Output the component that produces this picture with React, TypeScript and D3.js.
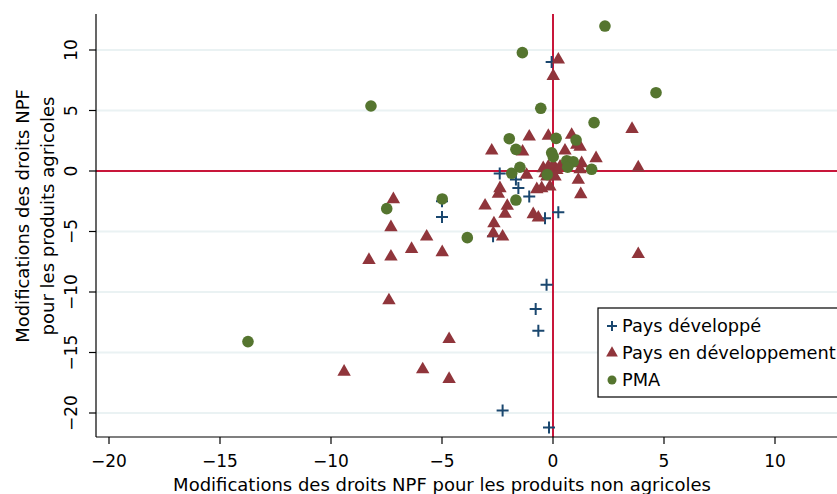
import React from "react";
import * as d3 from "d3";

// [non-agricultural change, agricultural change]
const developed: [number, number][] = [
  [-0.06, 9.0], [-2.4, -0.2], [-1.67, -0.7], [-1.56, -1.4], [-1.07, -2.1],
  [-5.0, -2.5], [-5.0, -3.8], [-0.36, -3.9], [0.24, -3.4], [-2.7, -5.4],
  [-0.29, -9.4], [-0.78, -11.4], [-0.66, -13.2], [-2.27, -19.8], [-0.18, -21.2],
];

const developing: [number, number][] = [
  [0.24, 9.2], [0.01, 7.85], [3.56, 3.47], [-1.07, 2.84], [-0.21, 2.9],
  [0.84, 2.98], [-2.76, 1.68], [-1.37, 1.6], [0.54, 1.68], [1.07, 2.15],
  [1.22, 2.0], [1.94, 1.05], [3.84, 0.28], [-1.19, -0.33], [1.14, -0.74],
  [1.25, -1.93], [-2.39, -1.43], [-2.46, -1.9], [-3.06, -2.87], [-2.06, -2.89],
  [-2.16, -3.55], [-0.73, -1.51], [-0.51, -1.43], [-0.14, -1.3], [-0.89, -3.58],
  [-0.66, -3.86], [-2.66, -4.33], [-2.69, -5.15], [-2.27, -5.43], [-5.69, -5.43],
  [-4.99, -6.72], [3.84, -6.88], [-0.44, 0.22], [-0.21, 0.36], [0.01, 0.5],
  [0.17, 0.08], [-0.06, -0.33], [-0.28, -0.47], [0.09, -0.47], [0.32, 0.36],
  [-0.36, -0.19], [1.29, 0.64], [1.22, 0.14], [-7.19, -2.34], [-7.3, -4.65],
  [-6.37, -6.45], [-8.29, -7.36], [-7.3, -7.08], [-7.39, -10.7], [-9.41, -16.6],
  [-5.87, -16.4], [-4.68, -17.2], [-4.68, -13.9],
];

const pma: [number, number][] = [
  [2.34, 11.98], [-1.38, 9.78], [4.64, 6.47], [-0.55, 5.18], [-8.2, 5.37],
  [1.85, 4.0], [-1.97, 2.67], [-1.67, 1.79], [0.14, 2.7], [1.04, 2.56],
  [-0.06, 1.51], [0.01, 1.18], [0.62, 0.85], [0.91, 0.77], [0.66, 0.31],
  [1.74, 0.14], [-1.49, 0.31], [-1.86, -0.19], [-0.26, -0.3], [-1.67, -2.4],
  [-4.99, -2.31], [-3.86, -5.51], [-7.49, -3.11], [-13.74, -14.1],
];

const xTicks = [-20, -15, -10, -5, 0, 5, 10];
const yTicks = [-20, -15, -10, -5, 0, 5, 10];
const legendLabels = ["Pays développé", "Pays en développement", "PMA"];

const W = 837;
const H = 494;
const COL_DEV = "#1a476f";
const COL_DEVING = "#90353b";
const COL_PMA = "#55752f";
const COL_REF = "#c8163a";
const FONT = "'DejaVu Sans', Verdana, sans-serif";

const fmt = (t: number) => (t < 0 ? "\u2212" + Math.abs(t) : String(t));

export default function App() {
  const x = d3.scaleLinear().domain([-20, 10]).range([109, 775]);
  const y = d3.scaleLinear().domain([-20, 10]).range([413, 50]);
  const left = 96, right = W, top = 14, bottom = 437;

  const tri = d3.symbol(d3.symbolTriangle, 78)() as string;
  const plus = "M-6,0H6M0,-6V6";

  return (
    <svg
      width={W}
      height={H}
      style={{ position: "absolute", left: 0, top: 0, background: "#fff" }}
      fontFamily={FONT}
    >
      {/* grid */}
      {yTicks.map((t) => (
        <line key={"g" + t} x1={left} x2={right} y1={y(t)} y2={y(t)} stroke="#eaf2f3" strokeWidth={2} />
      ))}

      {/* reference lines */}
      <line x1={left} x2={right} y1={y(0)} y2={y(0)} stroke={COL_REF} strokeWidth={2} />
      <line x1={x(0)} x2={x(0)} y1={top} y2={bottom} stroke={COL_REF} strokeWidth={2} />

      {/* markers */}
      {developed.map((d, i) => (
        <path key={"d" + i} d={plus} transform={`translate(${x(d[0])},${y(d[1])})`} stroke={COL_DEV} strokeWidth={2} fill="none" />
      ))}
      {developing.map((d, i) => (
        <path key={"t" + i} d={tri} transform={`translate(${x(d[0])},${y(d[1])})`} fill={COL_DEVING} />
      ))}
      {pma.map((d, i) => (
        <circle key={"c" + i} cx={x(d[0])} cy={y(d[1])} r={5.8} fill={COL_PMA} />
      ))}

      {/* axes */}
      <line x1={left} x2={right} y1={bottom} y2={bottom} stroke="#000" strokeWidth={1.2} />
      <line x1={left} x2={left} y1={top} y2={bottom} stroke="#000" strokeWidth={1.2} />
      {xTicks.map((t) => (
        <g key={"x" + t}>
          <line x1={x(t)} x2={x(t)} y1={bottom} y2={bottom + 7} stroke="#000" strokeWidth={1.2} />
          <text x={x(t)} y={bottom + 30} textAnchor="middle" fontSize={17}>
            {fmt(t)}
          </text>
        </g>
      ))}
      {yTicks.map((t) => (
        <g key={"y" + t}>
          <line x1={left} x2={left - 7} y1={y(t)} y2={y(t)} stroke="#000" strokeWidth={1.2} />
          <text
            transform={`translate(${left - 19},${y(t)}) rotate(-90)`}
            textAnchor="middle"
            fontSize={17}
          >
            {fmt(t)}
          </text>
        </g>
      ))}

      {/* axis titles */}
      <text x={442} y={H - 3} textAnchor="middle" fontSize={18}>
        Modifications des droits NPF pour les produits non agricoles
      </text>
      <g transform={`translate(29,216) rotate(-90)`}>
        <text textAnchor="middle" fontSize={18}>Modifications des droits NPF</text>
        <text y={25} textAnchor="middle" fontSize={18}>pour les produits agricoles</text>
      </g>

      {/* legend */}
      <rect x={598} y={308} width={262} height={89} fill="#fff" stroke="#000" strokeWidth={1.2} />
      {legendLabels.map((lab, i) => {
        const cy = 326 + i * 27;
        return (
          <g key={lab}>
            {i === 0 && <path d="M-5,0H5M0,-5V5" transform={`translate(612,${cy})`} stroke={COL_DEV} strokeWidth={2} />}
            {i === 1 && <path d={d3.symbol(d3.symbolTriangle, 60)() as string} transform={`translate(612,${cy})`} fill={COL_DEVING} />}
            {i === 2 && <circle cx={612} cy={cy} r={4.5} fill={COL_PMA} />}
            <text x={622} y={cy + 6} fontSize={17.8}>{lab}</text>
          </g>
        );
      })}
    </svg>
  );
}
